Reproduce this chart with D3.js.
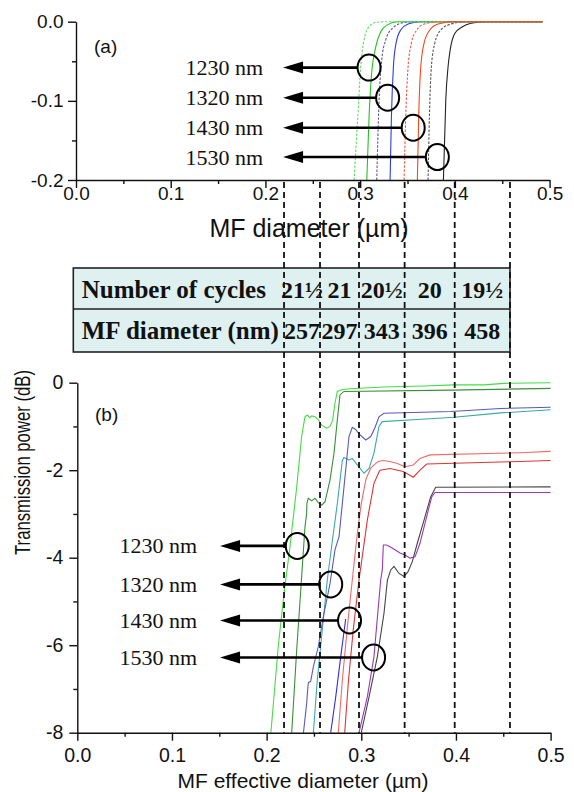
<!DOCTYPE html>
<html>
<head>
<meta charset="UTF-8">
<title>MF transmission</title>
<script src="https://cdn.jsdelivr.net/npm/d3@7"></script>
<style>
  body { margin: 0; background: #fff; }
  svg { display: block; }
</style>
</head>
<body>
<svg width="574" height="792"></svg>
<script>
// ---------- data ----------
const wavelengths = ["1230 nm", "1320 nm", "1430 nm", "1530 nm"];
const cycles = ["21½", "21", "20½", "20", "19½"];
const diameters = ["257", "297", "343", "396", "458"];
const boundaries = [0.2184, 0.2564, 0.2976, 0.3458, 0.3987, 0.4571]; // µm, dashed lines

const xTicks = [0, 0.1, 0.2, 0.3, 0.4, 0.5];
const xMinor = [0.05, 0.15, 0.25, 0.35, 0.45];
const aYTicks = [0, -0.1, -0.2];
const aYMinor = [-0.05, -0.15];
const bYTicks = [0, -2, -4, -6, -8];
const bYMinor = [-1, -3, -5, -7];

// (a) simulated loss, [diameter µm, dB]
const aGreenDash = [[0.2936,-0.2],[0.2975,-0.12],[0.3006,-0.057],[0.3041,-0.023],[0.3094,-0.0063],[0.3165,-0.001],[0.326,0],[0.4925,0]];
const aGreen = [[0.307,-0.2],[0.3094,-0.12],[0.3118,-0.0695],[0.3165,-0.0316],[0.3217,-0.0126],[0.3287,-0.004],[0.3393,0],[0.4925,0]];
const aSlateDash = [[0.3175,-0.2],[0.32,-0.099],[0.3228,-0.048],[0.327,-0.023],[0.334,-0.0084],[0.3464,-0.001],[0.361,0],[0.4925,0]];
const aBlue = [[0.3316,-0.2],[0.333,-0.12],[0.3351,-0.057],[0.3379,-0.027],[0.3428,-0.0105],[0.3506,-0.003],[0.364,0],[0.4925,0]];
const aRedDash = [[0.3464,-0.2],[0.3481,-0.12],[0.3506,-0.057],[0.3541,-0.027],[0.3597,-0.0105],[0.3675,-0.003],[0.3815,0],[0.4925,0]];
const aRed = [[0.3604,-0.2],[0.3618,-0.12],[0.364,-0.057],[0.3675,-0.027],[0.3735,-0.0105],[0.3823,-0.003],[0.3992,0],[0.4925,0]];
const aBlackDash = [[0.3717,-0.2],[0.3731,-0.12],[0.3752,-0.057],[0.3788,-0.027],[0.3851,-0.0105],[0.3957,-0.003],[0.4132,0],[0.4925,0]];
const aBlack = [[0.3879,-0.2],[0.3904,-0.099],[0.3928,-0.057],[0.395,-0.036],[0.4,-0.0147],[0.408,-0.0063],[0.417,-0.002],[0.431,0],[0.4925,0]];

// (b) measured transmission, [effective diameter µm, dB]
const bGreen = [[0.2045,-8],[0.2124,-6.0],[0.2185,-4.8],[0.2247,-3.75],[0.2318,-2.38],[0.237,-1.23],[0.2405,-0.78],[0.243,-0.74],[0.2455,-0.8],[0.2476,-0.76],[0.2511,-0.78],[0.2546,-0.85],[0.2582,-0.97],[0.2634,-1.04],[0.267,-1.0],[0.2698,-0.85],[0.2722,-0.47],[0.2747,-0.2],[0.2793,-0.16],[0.2881,-0.14],[0.324,-0.1],[0.3663,-0.075],[0.398,-0.05],[0.4296,-0.05],[0.4508,-0.015],[0.5,0]];
const bDarkGreen = [[0.2265,-8],[0.2318,-6.1],[0.2365,-4.6],[0.2405,-3.3],[0.2422,-3.0],[0.2426,-2.76],[0.244,-2.64],[0.2476,-2.7],[0.2511,-2.64],[0.2546,-2.74],[0.2582,-2.8],[0.2617,-2.72],[0.267,-2.22],[0.2712,-1.61],[0.2747,-0.85],[0.2775,-0.28],[0.2817,-0.2],[0.3945,-0.17],[0.5,-0.13]];
const bSlate = [[0.2389,-8],[0.2423,-7.33],[0.2436,-6.95],[0.2442,-6.85],[0.2465,-6.83],[0.2494,-6.49],[0.2546,-6.03],[0.2599,-5.35],[0.267,-4.59],[0.2722,-3.82],[0.2765,-3.52],[0.2835,-2.0],[0.287,-1.23],[0.2905,-1.02],[0.294,-1.07],[0.2976,-1.17],[0.3047,-1.31],[0.31,-1.23],[0.3142,-1.04],[0.3187,-0.78],[0.324,-0.7],[0.3945,-0.66],[0.4473,-0.59],[0.5,-0.56]];
const bTeal = [[0.2494,-8],[0.2535,-6.8],[0.2588,-5.65],[0.2641,-4.51],[0.2695,-3.6],[0.2747,-2.76],[0.28,-1.77],[0.2817,-1.71],[0.2845,-1.74],[0.287,-1.77],[0.2905,-1.73],[0.2958,-1.88],[0.3029,-2.07],[0.3082,-1.96],[0.3134,-1.61],[0.3187,-1.0],[0.3222,-0.89],[0.3592,-0.84],[0.398,-0.79],[0.4473,-0.69],[0.5,-0.62]];
const bBlue = [[0.2677,-8],[0.273,-7.18],[0.2783,-6.26],[0.2835,-5.4]];
const bRedA = [[0.2757,-8],[0.28,-6.8],[0.285,-5.65],[0.2905,-4.51],[0.2955,-3.5],[0.3,-2.76],[0.305,-2.2],[0.31,-1.95],[0.315,-1.85],[0.318,-1.8],[0.3233,-1.78],[0.33,-1.8],[0.3374,-1.84],[0.3462,-1.92],[0.355,-1.88],[0.362,-1.73],[0.3726,-1.65],[0.4677,-1.6],[0.5,-1.57]];
const bRedB = [[0.2825,-8],[0.2865,-6.8],[0.2915,-5.65],[0.2976,-4.51],[0.3064,-3.14],[0.3134,-2.3],[0.3187,-2.04],[0.3198,-2.0],[0.3303,-1.96],[0.3444,-2.03],[0.355,-2.16],[0.362,-2.0],[0.3691,-1.86],[0.398,-1.84],[0.4677,-1.8],[0.5,-1.78]];
const bPurple = [[0.2976,-8],[0.3064,-7.18],[0.3134,-6.26],[0.3205,-4.51],[0.3222,-4.28],[0.3233,-3.71],[0.3268,-3.71],[0.3303,-3.75],[0.3356,-3.82],[0.3409,-3.89],[0.3462,-3.94],[0.3515,-4.01],[0.3568,-3.98],[0.362,-3.67],[0.3691,-3.06],[0.3744,-2.61],[0.3779,-2.51],[0.5,-2.51]];
const bBlack = [[0.3,-8],[0.3082,-7.18],[0.317,-6.26],[0.324,-5.27],[0.3276,-4.51],[0.3311,-4.28],[0.3346,-4.2],[0.3399,-4.36],[0.3452,-4.43],[0.3494,-4.32],[0.3539,-4.09],[0.3592,-3.67],[0.3663,-3.14],[0.3733,-2.61],[0.3786,-2.39],[0.5,-2.38]];

// annotation circles (data units) and arrow tips
const aCircleX = [0.3094, 0.329, 0.356, 0.3815];
const aCircleY = [-0.058, -0.096, -0.134, -0.171];
const aArrowTip = 0.2186;
const bCircleX = [0.2324, 0.2677, 0.2876, 0.313];
const bCircleY = [-3.73, -4.61, -5.435, -6.28];
const bArrowTip = 0.1508;

// ---------- drawing ----------
const svg = d3.select("svg");
const SANS = "'Liberation Sans', Arial, sans-serif";
const SERIF = "'Liberation Serif', 'Times New Roman', serif";

const xa = d3.scaleLinear([0, 0.5], [76, 549.6]);
const ya = d3.scaleLinear([-0.2, 0], [180, 21.7]);
const xb = d3.scaleLinear([0, 0.5], [77.3, 550.6]);
const yb = d3.scaleLinear([-8, 0], [732.7, 382.7]);

// plain hyphen instead of the unicode minus d3.format uses
const hy = f => d => f(d).replace("\u2212", "-");

function styleAxis(g, size) {
  g.attr("font-family", SANS).attr("font-size", size);
  g.selectAll("path, line").attr("stroke", "#111").attr("stroke-width", 1.4);
  g.selectAll("text").attr("fill", "#111");
}

function drawAxes(x, y, yTicks, yMinor, yFmt, xPad, yPad, fs) {
  const y0 = y.range()[0], x0 = x.range()[0];
  svg.append("g").attr("transform", `translate(0,${y0})`)
    .call(d3.axisBottom(x).tickValues(xTicks).tickFormat(d3.format(".1f"))
      .tickSize(8).tickSizeOuter(0).tickPadding(xPad))
    .call(g => styleAxis(g, fs));
  svg.append("g").attr("transform", `translate(0,${y0})`)
    .call(d3.axisBottom(x).tickValues(xMinor).tickFormat("").tickSize(4).tickSizeOuter(0))
    .call(g => { g.select(".domain").remove(); styleAxis(g, fs); });
  svg.append("g").attr("transform", `translate(${x0},0)`)
    .call(d3.axisLeft(y).tickValues(yTicks).tickFormat(hy(yFmt))
      .tickSize(8).tickSizeOuter(0).tickPadding(yPad))
    .call(g => styleAxis(g, fs));
  svg.append("g").attr("transform", `translate(${x0},0)`)
    .call(d3.axisLeft(y).tickValues(yMinor).tickFormat("").tickSize(4).tickSizeOuter(0))
    .call(g => { g.select(".domain").remove(); styleAxis(g, fs); });
}

function annotate(x, y, cxs, cys, tip, labelGap, fs) {
  const g = svg.append("g");
  const rx = 11.5, ry = 13;
  wavelengths.forEach((w, i) => {
    const cx = x(cxs[i]), cy = y(cys[i]), tx = x(tip);
    g.append("line").attr("x1", tx + 16).attr("x2", cx - rx).attr("y1", cy).attr("y2", cy)
      .attr("stroke", "#000").attr("stroke-width", 2.6);
    g.append("path").attr("d", `M${tx},${cy}L${tx + 20},${cy - 6}L${tx + 20},${cy + 6}Z`)
      .attr("fill", "#000");
    g.append("ellipse").attr("cx", cx).attr("cy", cy).attr("rx", rx).attr("ry", ry)
      .attr("fill", "none").attr("stroke", "#000").attr("stroke-width", 2);
    g.append("text").attr("x", tx - labelGap).attr("y", cy + 7.5)
      .attr("text-anchor", "end").attr("font-family", SERIF).attr("font-size", fs)
      .attr("fill", "#111").text(w);
  });
}

// ---- panel (a) ----
const lineA = d3.line().x(d => xa(d[0])).y(d => ya(d[1])).curve(d3.curveMonotoneX);
const seriesA = [
  [aBlack, "#222222", null], [aBlackDash, "#555555", "2.5,1.5"],
  [aBlue, "#2d3de0", null], [aSlateDash, "#5a5a9e", "2.5,1.5"],
  [aGreen, "#22c322", null], [aGreenDash, "#5fe05f", "2.5,1.5"],
  [aRedDash, "#f0584a", "2.5,1.5"], [aRed, "#f04a1a", null]
];
seriesA.forEach(([pts, col, dash]) => {
  svg.append("path").attr("d", lineA(pts)).attr("fill", "none")
    .attr("stroke", col).attr("stroke-width", 1.1).attr("stroke-dasharray", dash);
});
drawAxes(xa, ya, aYTicks, aYMinor, d3.format(".1f"), -1, 4.5, 19);
svg.append("text").attr("x", 94).attr("y", 53).attr("font-family", SANS)
  .attr("font-size", 19).attr("fill", "#111").text("(a)");
svg.append("text").attr("x", 309).attr("y", 237).attr("text-anchor", "middle")
  .attr("font-family", SANS).attr("font-size", 25).attr("fill", "#111").text("MF diameter (µm)");
annotate(xa, ya, aCircleX, aCircleY, aArrowTip, 20, 22);

// ---- table ----
const tLeft = 73.3, tRight = xb(boundaries[boundaries.length - 1]);
const tTop = 268, tMid = 309, tBot = 352;
svg.append("rect").attr("x", tLeft).attr("y", tTop).attr("width", tRight - tLeft)
  .attr("height", tBot - tTop).attr("fill", "#def0f0").attr("stroke", "#222").attr("stroke-width", 1.6);
svg.append("line").attr("x1", tLeft).attr("x2", tRight).attr("y1", tMid).attr("y2", tMid)
  .attr("stroke", "#222").attr("stroke-width", 1.6);
const tText = (x, y, s, anchor, fs) => svg.append("text").attr("x", x).attr("y", y)
  .attr("text-anchor", anchor).attr("font-family", SERIF).attr("font-weight", "bold")
  .attr("font-size", fs).attr("fill", "#111").text(s);
tText(81.7, 298, "Number of cycles", "start", 25);
tText(81.7, 339, "MF diameter (nm)", "start", 25);
cycles.forEach((c, i) => tText((xb(boundaries[i]) + xb(boundaries[i + 1])) / 2, 298, c, "middle", 24));
diameters.forEach((c, i) => tText((xb(boundaries[i]) + xb(boundaries[i + 1])) / 2, 339, c, "middle", 24));

// ---- panel (b) ----
const lineB = d3.line().x(d => xb(d[0])).y(d => yb(d[1]));
const seriesB = [
  [bBlue, "#3030e0"], [bBlack, "#444444"], [bPurple, "#9a3ab0"],
  [bRedB, "#e03535"], [bRedA, "#f06a6a"], [bTeal, "#3aa8a8"],
  [bSlate, "#5a5ab5"], [bDarkGreen, "#3a8f3a"], [bGreen, "#44dd44"]
];
seriesB.forEach(([pts, col]) => {
  svg.append("path").attr("d", lineB(pts)).attr("fill", "none")
    .attr("stroke", col).attr("stroke-width", 1.1);
});

// dashed boundary lines through both panels
boundaries.forEach(b => {
  svg.append("line").attr("x1", xb(b)).attr("x2", xb(b)).attr("y1", 182).attr("y2", yb(-8))
    .attr("stroke", "#111").attr("stroke-width", 1.8).attr("stroke-dasharray", "6,4");
});

drawAxes(xb, yb, bYTicks, bYMinor, d3.format("d"), 7.5, 6, 19.5);
svg.append("text").attr("x", 95).attr("y", 421).attr("font-family", SANS)
  .attr("font-size", 19).attr("fill", "#111").text("(b)");
svg.append("text").attr("x", 303).attr("y", 788).attr("text-anchor", "middle")
  .attr("font-family", SANS).attr("font-size", 21).attr("fill", "#111").text("MF effective diameter (µm)");
// the source figure is squeezed vertically, so the rotated title is shortened
svg.append("text").attr("transform", "translate(30,555) scale(1,0.76) rotate(-90)")
  .attr("font-family", SANS).attr("font-size", 22).attr("fill", "#111").text("Transmission power (dB)");
annotate(xb, yb, bCircleX, bCircleY, bArrowTip, 23, 22);
</script>
</body>
</html>
